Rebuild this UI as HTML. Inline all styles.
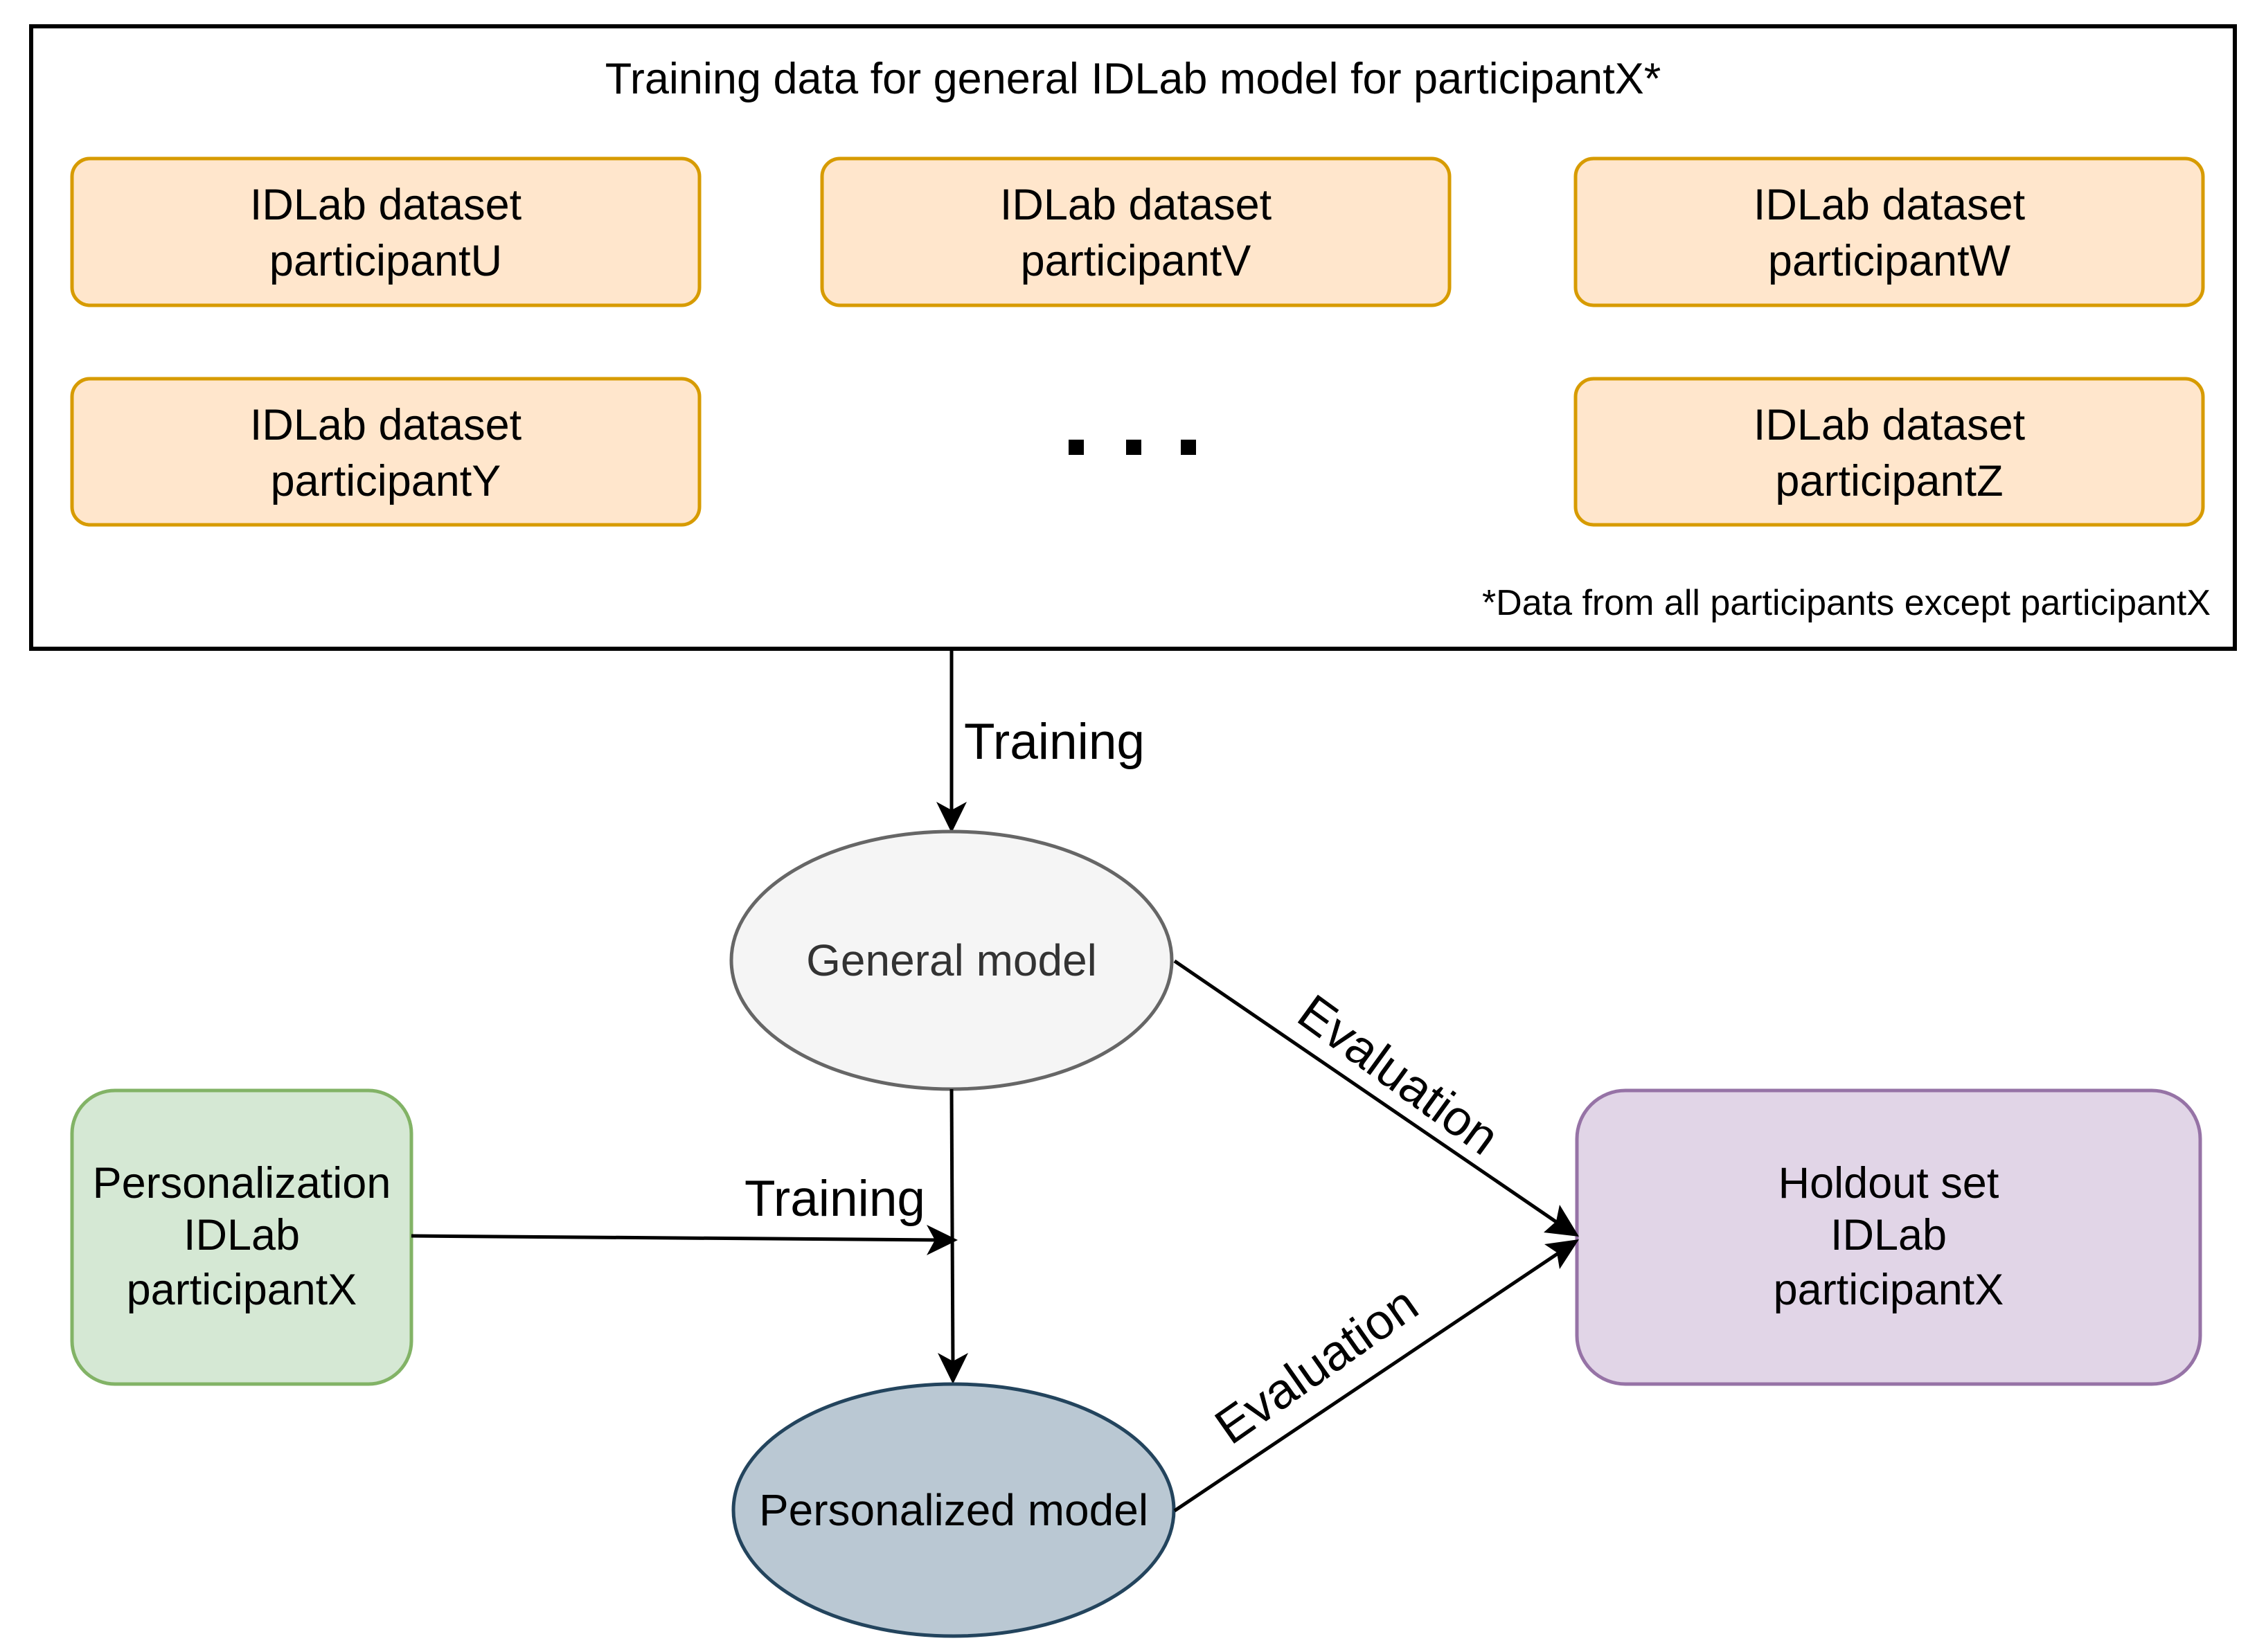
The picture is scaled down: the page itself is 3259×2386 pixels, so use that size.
<!DOCTYPE html>
<html><head><meta charset="utf-8"><style>
html,body{margin:0;padding:0;background:#fff;}
svg{display:block;}
text{font-family:"Liberation Sans",Arial,Helvetica,sans-serif;}
</style></head><body>
<svg width="3259" height="2386" viewBox="0 0 3259 2386" xmlns="http://www.w3.org/2000/svg">
<rect x="0" y="0" width="3259" height="2386" fill="#fff"/>
<rect x="45" y="38" width="3182" height="899" fill="#fff" stroke="#000" stroke-width="6"/>
<text x="1636" y="135" font-size="63" text-anchor="middle">Training data for general IDLab model for participantX*</text>
<g fill="#ffe6cc" stroke="#d79b00" stroke-width="5">
<rect x="104" y="229" width="906" height="212" rx="26"/>
<rect x="1187" y="229" width="906" height="212" rx="26"/>
<rect x="2275" y="229" width="906" height="212" rx="26"/>
<rect x="104" y="547" width="906" height="211" rx="26"/>
<rect x="2275" y="547" width="906" height="211" rx="26"/>
</g>
<g font-size="63" text-anchor="middle" fill="#000">
<text x="557" y="317">IDLab dataset</text><text x="557" y="398">participantU</text>
<text x="1640" y="317">IDLab dataset</text><text x="1640" y="398">participantV</text>
<text x="2728" y="317">IDLab dataset</text><text x="2728" y="398">participantW</text>
<text x="557" y="635">IDLab dataset</text><text x="557" y="716">participantY</text>
<text x="2728" y="635">IDLab dataset</text><text x="2728" y="716">participantZ</text>
</g>
<g fill="#000">
<rect x="1543" y="635" width="22" height="22"/>
<rect x="1626" y="635" width="22" height="22"/>
<rect x="1705" y="635" width="22" height="22"/>
</g>
<text x="3192" y="888" font-size="52" text-anchor="end">*Data from all participants except participantX</text>

<line x1="1374" y1="937" x2="1374" y2="1180" stroke="#000" stroke-width="5"/>
<polygon points="1374,1203 1352,1158 1374,1170 1396,1158" fill="#000"/>
<text x="1392" y="1096" font-size="73">Training</text>

<ellipse cx="1374" cy="1387" rx="318" ry="186" fill="#f5f5f5" stroke="#666" stroke-width="5"/>
<text x="1374" y="1409" font-size="64" text-anchor="middle" fill="#333">General model</text>

<line x1="1374" y1="1573" x2="1376" y2="1975" stroke="#000" stroke-width="5"/>
<polygon points="1376,1999 1354,1954 1376,1966 1398,1954" fill="#000"/>

<ellipse cx="1377" cy="2181" rx="318" ry="182" fill="#bac8d3" stroke="#23445d" stroke-width="5"/>
<text x="1377" y="2203" font-size="64" text-anchor="middle">Personalized model</text>

<rect x="104" y="1575" width="490" height="424" rx="62" fill="#d5e8d4" stroke="#82b366" stroke-width="5"/>
<g font-size="63" text-anchor="middle">
<text x="349" y="1730">Personalization</text>
<text x="349" y="1805">IDLab</text>
<text x="349" y="1884">participantX</text>
</g>
<line x1="594" y1="1785" x2="1360" y2="1791" stroke="#000" stroke-width="5"/>
<polygon points="1383,1791 1338,1813 1350,1791 1338,1769" fill="#000"/>
<text x="1075" y="1756" font-size="73">Training</text>

<rect x="2277" y="1575" width="900" height="424" rx="70" fill="#e1d5e7" stroke="#9673a6" stroke-width="5"/>
<g font-size="63" text-anchor="middle">
<text x="2727" y="1730">Holdout set</text>
<text x="2727" y="1805">IDLab</text>
<text x="2727" y="1884">participantX</text>
</g>

<line x1="1696" y1="1388" x2="2262" y2="1775" stroke="#000" stroke-width="5"/>
<polygon points="2280,1786 2229,1780 2247,1764 2252,1740" fill="#000"/>
<line x1="1696" y1="2182" x2="2262" y2="1802" stroke="#000" stroke-width="5"/>
<polygon points="2280,1790 2252,1833 2248,1809 2230,1797" fill="#000"/>
<text x="0" y="0" font-size="72" text-anchor="middle" transform="translate(2005,1572) rotate(36)">Evaluation</text>
<text x="0" y="0" font-size="72" text-anchor="middle" transform="translate(1915,1992) rotate(-35)">Evaluation</text>
</svg>
</body></html>
